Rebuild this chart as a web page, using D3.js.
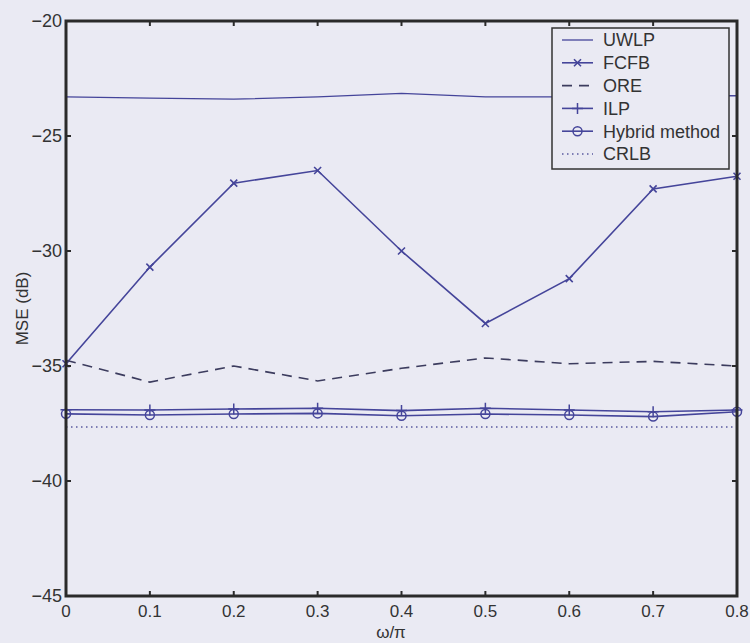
<!DOCTYPE html>
<html><head><meta charset="utf-8">
<script src="https://cdn.jsdelivr.net/npm/d3@7"></script>
<style>
html,body{margin:0;padding:0;background:#eaeaf3;}
svg{display:block;font-family:"Liberation Sans",Arial,sans-serif;}
</style></head>
<body><svg id="c" width="750" height="643"></svg>
<script>
const omega = [0,0.1,0.2,0.3,0.4,0.5,0.6,0.7,0.8];
const uwlp = [-23.3,-23.35,-23.4,-23.3,-23.15,-23.3,-23.3,-23.25,-23.25];
const fcfb = [-34.9,-30.7,-27.05,-26.5,-30.0,-33.15,-31.2,-27.3,-26.75];
const ore = [-34.75,-35.7,-35.0,-35.65,-35.1,-34.65,-34.9,-34.8,-35.0];
const ilp = [-36.9,-36.91,-36.87,-36.84,-36.94,-36.84,-36.91,-36.99,-36.91];
const hybrid = [-37.08,-37.13,-37.09,-37.06,-37.16,-37.09,-37.13,-37.2,-36.99];
const crlb = [-37.65,-37.65,-37.65,-37.65,-37.65,-37.65,-37.65,-37.65,-37.65];
const xTicks = [0,0.1,0.2,0.3,0.4,0.5,0.6,0.7,0.8];
const yTicks = [-45,-40,-35,-30,-25,-20];
const legendNames = ["UWLP","FCFB","ORE","ILP","Hybrid method","CRLB"];

const svg = d3.select("#c");
const L=66, R=737, T=21, B=596;
const x = d3.scaleLinear().domain([0,0.8]).range([L,R]);
const y = d3.scaleLinear().domain([-45,-20]).range([B,T]);
const blue = "#45459a";
const axisCol = "#2a2a2a";

svg.append("rect").attr("width",750).attr("height",643).attr("fill","#eaeaf3");

const line = d3.line().x((d,i)=>x(omega[i])).y(d=>y(d));

const series = [
  {name:"UWLP", data:uwlp, color:blue, dash:null, marker:null, w:1.3},
  {name:"FCFB", data:fcfb, color:blue, dash:null, marker:"x", w:1.6},
  {name:"ORE", data:ore, color:"#3c3c5e", dash:"10,7", marker:null, w:1.6},
  {name:"ILP", data:ilp, color:blue, dash:null, marker:"+", w:1.6},
  {name:"Hybrid method", data:hybrid, color:blue, dash:null, marker:"o", w:1.6},
  {name:"CRLB", data:crlb, color:"#5a5aa0", dash:"1.5,3.5", marker:null, w:1.4}
];

function drawMarker(g, type, cx, cy, color){
  if(type==="x"){
    const s=3.5;
    g.append("path").attr("d",`M${cx-s},${cy-s}L${cx+s},${cy+s}M${cx-s},${cy+s}L${cx+s},${cy-s}`)
      .attr("stroke",color).attr("stroke-width",1.6).attr("fill","none");
  } else if(type==="+"){
    const s=5.5;
    g.append("path").attr("d",`M${cx-s},${cy}L${cx+s},${cy}M${cx},${cy-s}L${cx},${cy+s}`)
      .attr("stroke",color).attr("stroke-width",1.5).attr("fill","none");
  } else if(type==="o"){
    g.append("circle").attr("cx",cx).attr("cy",cy).attr("r",4.5)
      .attr("stroke",color).attr("stroke-width",1.5).attr("fill","none");
  }
}

const plot = svg.append("g");
series.forEach(s=>{
  plot.append("path").datum(s.data).attr("d",line)
    .attr("fill","none").attr("stroke",s.color).attr("stroke-width",s.w)
    .attr("stroke-dasharray",s.dash);
  if(s.marker){
    s.data.forEach((v,i)=>drawMarker(plot,s.marker,x(omega[i]),y(v),s.color));
  }
});

// axes box
const ax = svg.append("g");
ax.append("rect").attr("x",L).attr("y",T).attr("width",R-L).attr("height",B-T)
  .attr("fill","none").attr("stroke",axisCol).attr("stroke-width",3);
const tl=5;
xTicks.forEach(t=>{
  ax.append("line").attr("x1",x(t)).attr("x2",x(t)).attr("y1",B).attr("y2",B-tl).attr("stroke",axisCol).attr("stroke-width",2);
  ax.append("line").attr("x1",x(t)).attr("x2",x(t)).attr("y1",T).attr("y2",T+tl).attr("stroke",axisCol).attr("stroke-width",2);
  ax.append("text").attr("x",x(t)).attr("y",617).attr("text-anchor","middle")
    .attr("font-size",17).attr("fill","#333").text(String(t));
});
yTicks.forEach(t=>{
  ax.append("line").attr("x1",L).attr("x2",L+tl).attr("y1",y(t)).attr("y2",y(t)).attr("stroke",axisCol).attr("stroke-width",2);
  ax.append("line").attr("x1",R).attr("x2",R-tl).attr("y1",y(t)).attr("y2",y(t)).attr("stroke",axisCol).attr("stroke-width",2);
  ax.append("text").attr("x",62).attr("y",y(t)).attr("dy","0.35em").attr("text-anchor","end")
    .attr("font-size",18).attr("fill","#333").text(String(t).replace("-","\u2212"));
});

// axis labels
svg.append("text").attr("x",391).attr("y",638).attr("text-anchor","middle")
  .attr("font-size",17).attr("fill","#333").text("\u03c9/\u03c0");
svg.append("text").attr("transform",`translate(28,${(T+B)/2}) rotate(-90)`)
  .attr("text-anchor","middle").attr("font-size",17).attr("fill","#333").text("MSE (dB)");

// legend
const lg = svg.append("g");
lg.append("rect").attr("x",552).attr("y",28).attr("width",177).attr("height",141)
  .attr("fill","#eaeaf3").attr("stroke","#333").attr("stroke-width",1.5);
legendNames.forEach((n,i)=>{
  const s = series[i];
  const cy = 40 + i*22.8;
  lg.append("line").attr("x1",562).attr("x2",593).attr("y1",cy).attr("y2",cy)
    .attr("stroke",s.color).attr("stroke-width",s.w).attr("stroke-dasharray",s.dash);
  if(s.marker) drawMarker(lg,s.marker,577.5,cy,s.color);
  lg.append("text").attr("x",603).attr("y",cy).attr("dy","0.36em")
    .attr("font-size",18).attr("fill","#333").text(n);
});
</script>
</body></html>
